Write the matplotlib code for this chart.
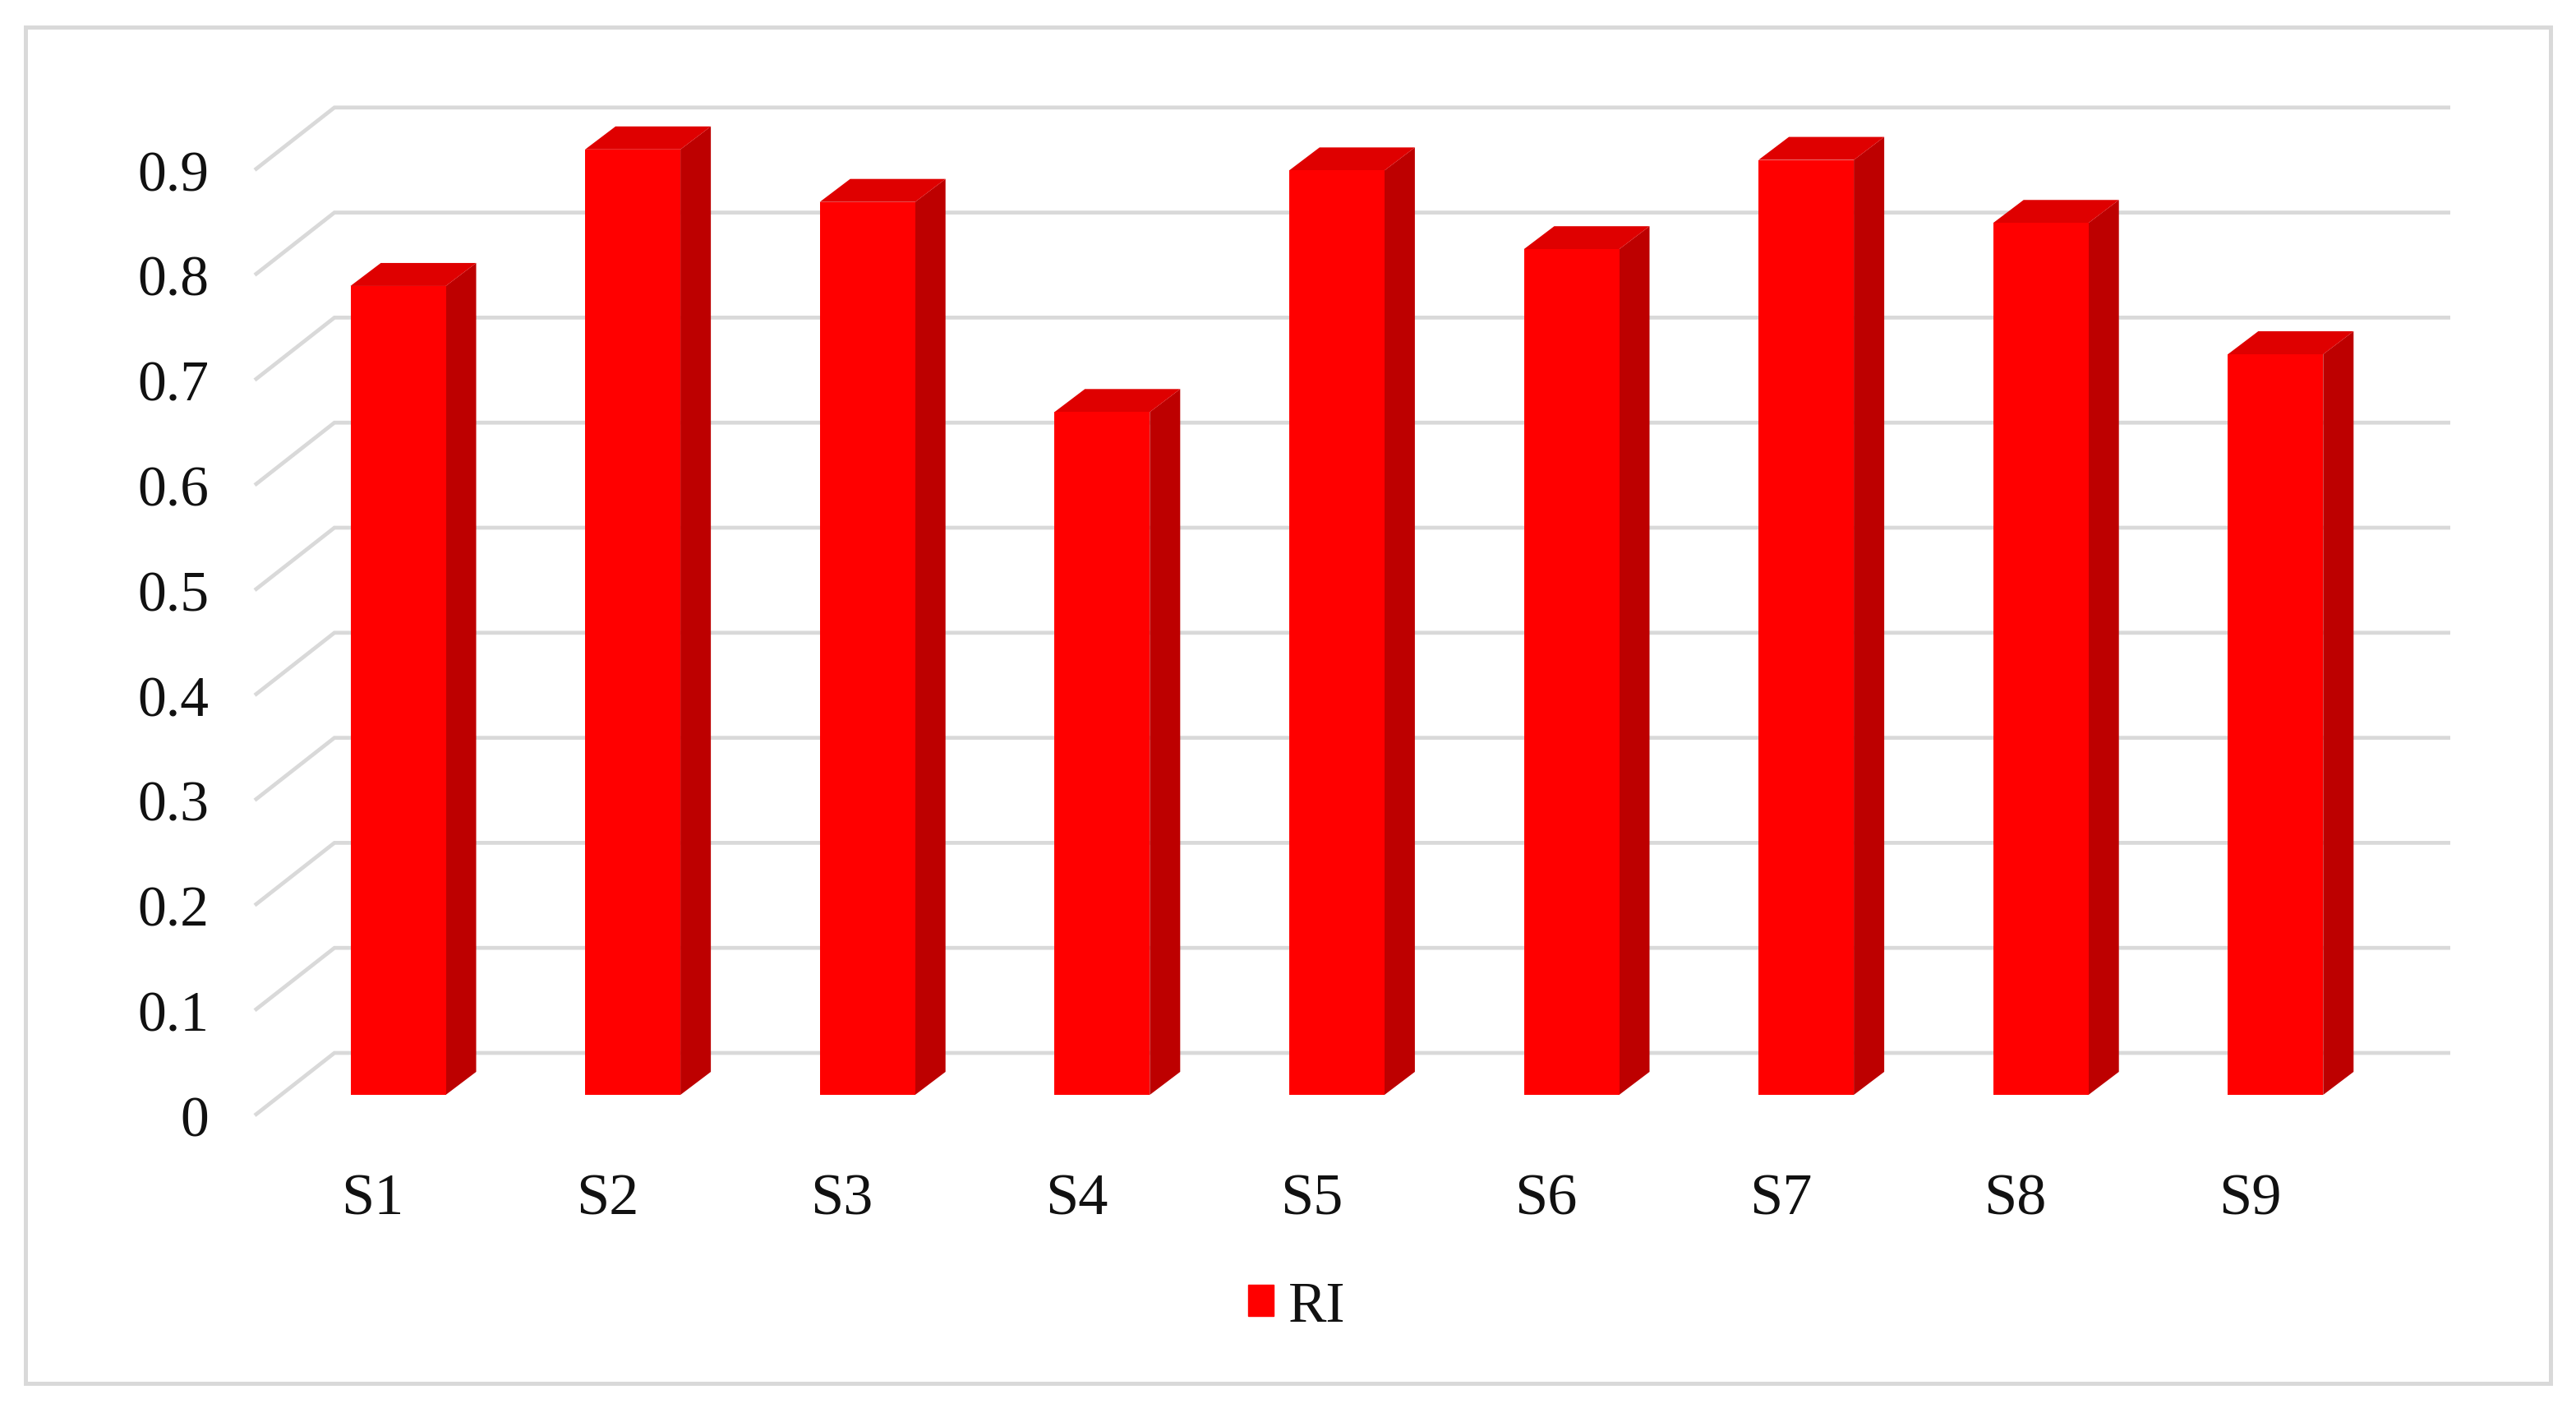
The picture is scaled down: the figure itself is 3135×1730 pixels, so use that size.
import matplotlib
matplotlib.use("Agg")
import matplotlib.pyplot as plt
from matplotlib.patches import Patch, Polygon, Rectangle
from matplotlib.transforms import ScaledTranslation

W, H = 3135, 1731
DPI = 100

categories = ["S1", "S2", "S3", "S4", "S5", "S6", "S7", "S8", "S9"]
ri_values = [0.77, 0.90, 0.85, 0.65, 0.88, 0.805, 0.89, 0.83, 0.705]
y_ticks = [0, 0.1, 0.2, 0.3, 0.4, 0.5, 0.6, 0.7, 0.8, 0.9]
y_labels = ["0", "0.1", "0.2", "0.3", "0.4", "0.5", "0.6", "0.7", "0.8", "0.9"]

plt.rcParams["font.family"] = ["Liberation Serif", "DejaVu Serif"]

FRONT = "#ff0000"
TOP = "#df0000"
SIDE = "#bd0000"
LINE = "#d9d9d9"

# scale of the bar plane, in pixels
PX_X = 285.6
PX_Y = 1278.0
X0, Y0 = 484.5, 1333.0  # S1 centre and the foot of the bars

# axes box = front left end of the floor line to the back wall top right
left, right = 310, 2982
top, bottom = 133, 1358

fig = plt.figure(figsize=(W / DPI, H / DPI), dpi=DPI, facecolor="white")
ax = fig.add_axes([left / W, 1 - bottom / H, (right - left) / W, (bottom - top) / H])
ax.set_xlim((left - X0) / PX_X, (right - X0) / PX_X)
ax.set_ylim((Y0 - bottom) / PX_Y, (Y0 - top) / PX_Y)
ax.patch.set_visible(False)
for s in ax.spines.values():
    s.set_visible(False)

# outer frame
fig.add_artist(Rectangle((31 / W, 1 - 1684 / H), (3104 - 31) / W, (1684 - 34) / H,
                         transform=fig.transFigure, fill=False, ec=LINE, lw=3.6))

# wall + floor offsets, relative to the bar plane
wall_dx = (407 - 310) / PX_X
wall_dy = 51 / PX_Y
foot_dy = -25 / PX_Y
x_start = ax.get_xlim()[0]
x_end = ax.get_xlim()[1]
for v in y_ticks:
    ax.plot([x_start, x_start + wall_dx, x_end],
            [v + foot_dy, v + wall_dy, v + wall_dy],
            color=LINE, lw=3.4, solid_joinstyle="miter", solid_capstyle="butt",
            clip_on=False, zorder=1)

# bars: front face from ax.bar, side and top from the same values
xs = list(range(len(categories)))
bar_w = 116 / PX_X
depth_x = 37 / PX_X
depth_y = 28 / PX_Y
ax.bar(xs, ri_values, width=bar_w, color=FRONT, zorder=3)
for x, v in zip(xs, ri_values):
    x1 = x - bar_w / 2
    x2 = x + bar_w / 2
    ax.add_patch(Polygon([(x2, 0), (x2 + depth_x, depth_y), (x2 + depth_x, v + depth_y), (x2, v)],
                         fc=SIDE, ec="none", zorder=2))
    ax.add_patch(Polygon([(x1, v), (x1 + depth_x, v + depth_y), (x2 + depth_x, v + depth_y), (x2, v)],
                         fc=TOP, ec="none", zorder=2))

# tick labels sit off the bar plane, so shift them
ax.set_yticks(y_ticks, y_labels)
ax.set_xticks(xs, categories)
ax.tick_params(axis="y", length=0, pad=40, labelsize=50, labelcolor="#111111")
ax.tick_params(axis="x", length=0, pad=50, labelsize=52, labelcolor="#111111")
for lb in ax.get_yticklabels():
    lb.set_transform(lb.get_transform() + ScaledTranslation(0, -25 / DPI, fig.dpi_scale_trans))
for lb in ax.get_xticklabels():
    lb.set_transform(lb.get_transform() + ScaledTranslation(-31 / DPI, 0, fig.dpi_scale_trans))

fig.legend(handles=[Patch(color=FRONT, label="RI")], loc="center",
           bbox_to_anchor=(1578 / W, 1 - 1591 / H), frameon=False, fontsize=50,
           handlelength=0.46, handleheight=0.46, handletextpad=0.25, labelcolor="#111111")

fig.savefig("out.png", dpi=DPI)
